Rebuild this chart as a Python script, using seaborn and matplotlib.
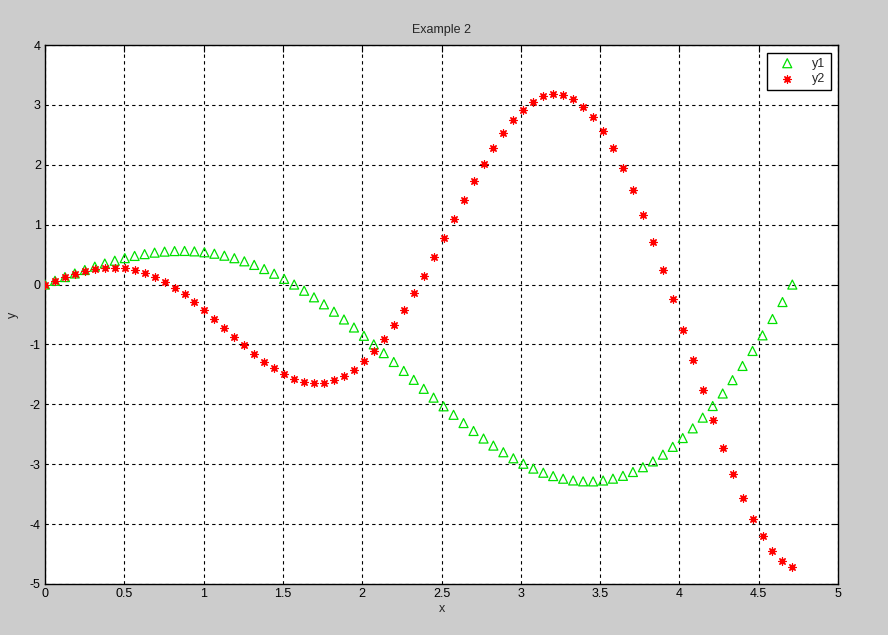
import numpy as np
import matplotlib
matplotlib.use("Agg")
import matplotlib.pyplot as plt
import seaborn as sns

### values (76 samples, step ~0.0628)
x = [0.000, 0.063, 0.126, 0.188, 0.251, 0.314, 0.377, 0.440, 0.503, 0.565,
     0.628, 0.691, 0.754, 0.817, 0.880, 0.942, 1.005, 1.068, 1.131, 1.194,
     1.257, 1.319, 1.382, 1.445, 1.508, 1.571, 1.634, 1.696, 1.759, 1.822,
     1.885, 1.948, 2.011, 2.073, 2.136, 2.199, 2.262, 2.325, 2.388, 2.450,
     2.513, 2.576, 2.639, 2.702, 2.765, 2.827, 2.890, 2.953, 3.016, 3.079,
     3.142, 3.204, 3.267, 3.330, 3.393, 3.456, 3.519, 3.581, 3.644, 3.707,
     3.770, 3.833, 3.896, 3.958, 4.021, 4.084, 4.147, 4.210, 4.273, 4.335,
     4.398, 4.461, 4.524, 4.587, 4.650, 4.712]

y1 = [0.000, 0.063, 0.125, 0.185, 0.243, 0.299, 0.351, 0.398, 0.441, 0.478,
      0.508, 0.533, 0.550, 0.559, 0.561, 0.554, 0.539, 0.515, 0.482, 0.440,
      0.388, 0.328, 0.259, 0.181, 0.095, 0.000, -0.103, -0.213, -0.330, -0.453,
      -0.583, -0.717, -0.856, -0.999, -1.145, -1.293, -1.442, -1.591, -1.741, -1.888,
      -2.033, -2.175, -2.313, -2.445, -2.571, -2.689, -2.800, -2.901, -2.992, -3.073,
      -3.142, -3.198, -3.242, -3.271, -3.286, -3.287, -3.272, -3.241, -3.194, -3.130,
      -3.050, -2.953, -2.840, -2.710, -2.563, -2.401, -2.222, -2.028, -1.819, -1.596,
      -1.359, -1.109, -0.848, -0.575, -0.292, 0.000]

y2 = [0.000, 0.062, 0.122, 0.175, 0.220, 0.254, 0.275, 0.280, 0.269, 0.241,
      0.194, 0.130, 0.047, -0.051, -0.165, -0.291, -0.428, -0.572, -0.721, -0.870,
      -1.017, -1.156, -1.285, -1.400, -1.496, -1.571, -1.621, -1.643, -1.636, -1.597,
      -1.525, -1.420, -1.282, -1.111, -0.910, -0.680, -0.424, -0.146, 0.150, 0.459,
      0.777, 1.097, 1.414, 1.722, 2.015, 2.287, 2.533, 2.746, 2.921, 3.055,
      3.142, 3.179, 3.165, 3.096, 2.973, 2.796, 2.565, 2.283, 1.953, 1.578,
      1.165, 0.718, 0.245, -0.249, -0.754, -1.262, -1.766, -2.256, -2.723, -3.160,
      -3.558, -3.909, -4.206, -4.443, -4.613, -4.712]

xticks = [0, 0.5, 1, 1.5, 2, 2.5, 3, 3.5, 4, 4.5, 5]
xticklabels = ["0", "0.5", "1", "1.5", "2", "2.5", "3", "3.5", "4", "4.5", "5"]
yticks = [-5, -4, -3, -2, -1, 0, 1, 2, 3, 4]

sns.set_style("white")
plt.rcParams['font.family'] = ['Liberation Sans', 'DejaVu Sans']
plt.rcParams['font.size'] = 9
plt.rcParams['axes.unicode_minus'] = False

fig = plt.figure(figsize=(8.88, 6.35), dpi=100, facecolor='#cccccc')
ax = fig.add_axes([45 / 888, 1 - 584 / 635, 793 / 888, 539 / 635])
ax.set_facecolor('white')

sns.scatterplot(x=x, y=y1, ax=ax, marker='^', s=42, facecolors='none',
                edgecolor='#00e000', linewidth=0.9, label='y1', zorder=3)
sns.scatterplot(x=x, y=y2, ax=ax, marker=(8, 2, 0), s=28, color='#ff0000',
                linewidth=0.9, label='y2', zorder=4)

ax.set_xlim(0, 5)
ax.set_ylim(-5, 4)
ax.set_xticks(xticks)
ax.set_xticklabels(xticklabels)
ax.set_yticks(yticks)

### matlab style grid and box
ax.grid(True, color='black', linestyle=(0, (3, 3)), linewidth=0.8)
for s in ax.spines.values():
    s.set_visible(True)
    s.set_color('black')
    s.set_linewidth(1.0)
ax.tick_params(direction='in', length=5, width=0.8, top=True, right=True,
               colors='black', labelsize=9, pad=3)

ax.set_title('Example 2', fontsize=9, pad=9)
ax.set_xlabel('x', fontsize=9, labelpad=2)
ax.set_ylabel('y', fontsize=9, labelpad=8)

leg = ax.legend(loc='upper right', fancybox=False, edgecolor='black',
                framealpha=1, fontsize=9, borderpad=0.4, handletextpad=0.8,
                labelspacing=0.3, borderaxespad=0.6, handlelength=2.4)
leg.get_frame().set_linewidth(1.0)

fig.savefig('out.png', dpi=100, facecolor=fig.get_facecolor())
